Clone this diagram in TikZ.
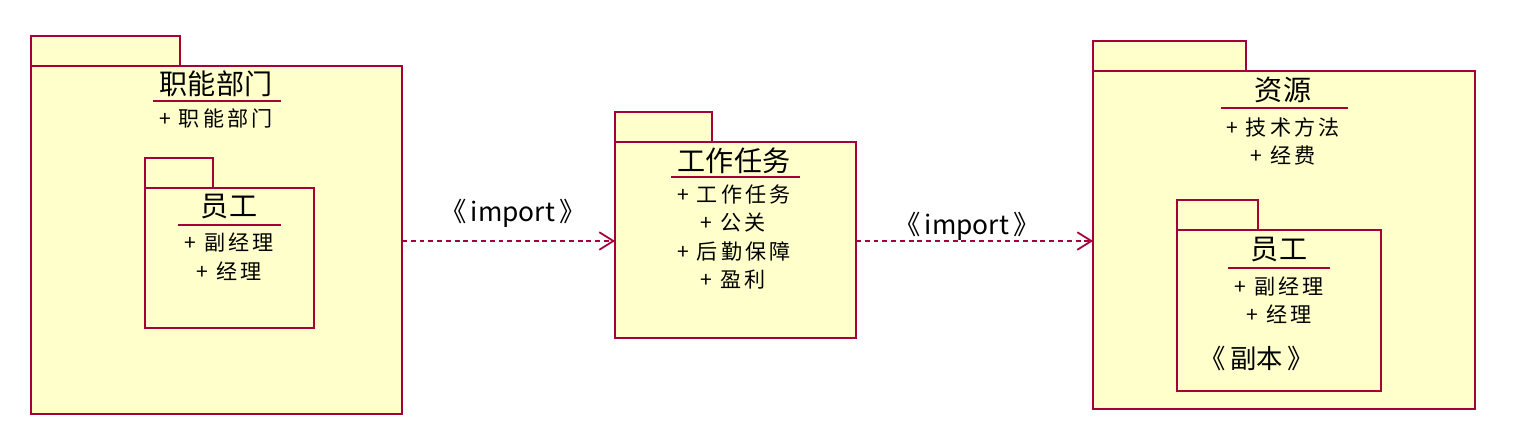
\documentclass[tikz,border=0pt]{standalone}
\usepackage{fontspec}
\setmainfont{Noto Sans CJK SC}
\newfontfamily\cjk{Noto Sans CJK SC}
\newfontfamily\cjkitem[LetterSpace=15]{Noto Sans CJK SC}
\usetikzlibrary{arrows.meta}
\definecolor{umlline}{RGB}{165,0,55}
\definecolor{umlfill}{RGB}{255,255,204}
\tikzset{
  pkg/.style={draw=umlline, fill=umlfill, line width=1.1pt, rectangle, inner sep=0pt, outer sep=0pt},
  ttl/.style={font=\cjk\fontsize{16}{16}\selectfont, inner sep=0pt},
  itm/.style={font=\cjkitem\fontsize{12}{12}\selectfont, inner sep=0pt},
  stereo/.style={font=\cjk\fontsize{15}{15}\selectfont, inner sep=0pt},
  uline/.style={draw=umlline, line width=1.1pt},
  imp/.style={draw=umlline, line width=1pt, dash pattern=on 2.8pt off 2.2pt, -{Straight Barb[length=8pt,width=10pt,line width=1pt]}}
}
\begin{document}
\begin{tikzpicture}[x=0.02cm,y=-0.02cm]
\useasboundingbox (0,0) rectangle (1521,436);
% Package 1
\node[pkg, anchor=north west, minimum width=7.42cm, minimum height=6.96cm] (p1) at (31,66) {};
\node[pkg, anchor=south west, minimum width=2.98cm, minimum height=0.6cm] (p1tab) at (p1.north west) {};
\node[ttl] (p1t) at (216,84) {职能部门};
\draw[uline] (153,101) -- (281,101);
\node[itm] (p1a) at (216,118) {+ 职能部门};
% inner
\node[pkg, anchor=north west, minimum width=3.38cm, minimum height=2.8cm] (p1i) at (145,188) {};
\node[pkg, anchor=south west, minimum width=1.36cm, minimum height=0.6cm] (p1itab) at (p1i.north west) {};
\node[ttl] (p1it) at (229,207) {员工};
\draw[uline] (178,225) -- (281,225);
\node[itm] (p1ia) at (229,242) {+ 副经理};
\node[itm] (p1ib) at (229,271) {+ 经理};
% Package 2
\node[pkg, anchor=north west, minimum width=4.82cm, minimum height=3.92cm] (p2) at (615,142) {};
\node[pkg, anchor=south west, minimum width=1.94cm, minimum height=0.6cm] (p2tab) at (p2.north west) {};
\node[ttl] (p2t) at (734,161) {工作任务};
\draw[uline] (671,177) -- (800,177);
\node[itm] (p2a) at (734,194) {+ 工作任务};
\node[itm] (p2b) at (733,223) {+ 公关};
\node[itm] (p2c) at (734,251) {+ 后勤保障};
\node[itm] (p2d) at (733,280) {+ 盈利};
% Package 3
\node[pkg, anchor=north west, minimum width=7.64cm, minimum height=6.76cm] (p3) at (1093,71) {};
\node[pkg, anchor=south west, minimum width=3.06cm, minimum height=0.6cm] (p3tab) at (p3.north west) {};
\node[ttl] (p3t) at (1283,90) {资源};
\draw[uline] (1221,108) -- (1348,108);
\node[itm] (p3a) at (1283,127) {+ 技术方法};
\node[itm] (p3b) at (1283,155) {+ 经费};
% inner
\node[pkg, anchor=north west, minimum width=4.08cm, minimum height=3.22cm] (p3i) at (1177,230) {};
\node[pkg, anchor=south west, minimum width=1.62cm, minimum height=0.6cm] (p3itab) at (p3i.north west) {};
\node[ttl] (p3it) at (1279,250) {员工};
\draw[uline] (1228,268) -- (1330,268);
\node[itm] (p3ia) at (1279,286) {+ 副经理};
\node[itm] (p3ib) at (1279,314) {+ 经理};
\node[stereo] (p3is) at (1257,358) {《\,副本\,》};
% connectors
\draw[imp] (p1.east |- 0,241) -- (p2.west |- 0,241);
\node[stereo] (l1) at (513,213) {《\,import\,》};
\draw[imp] (p2.east |- 0,241) -- (p3.west |- 0,241);
\node[stereo] (l2) at (967,226) {《\,import\,》};
\end{tikzpicture}
\end{document}
